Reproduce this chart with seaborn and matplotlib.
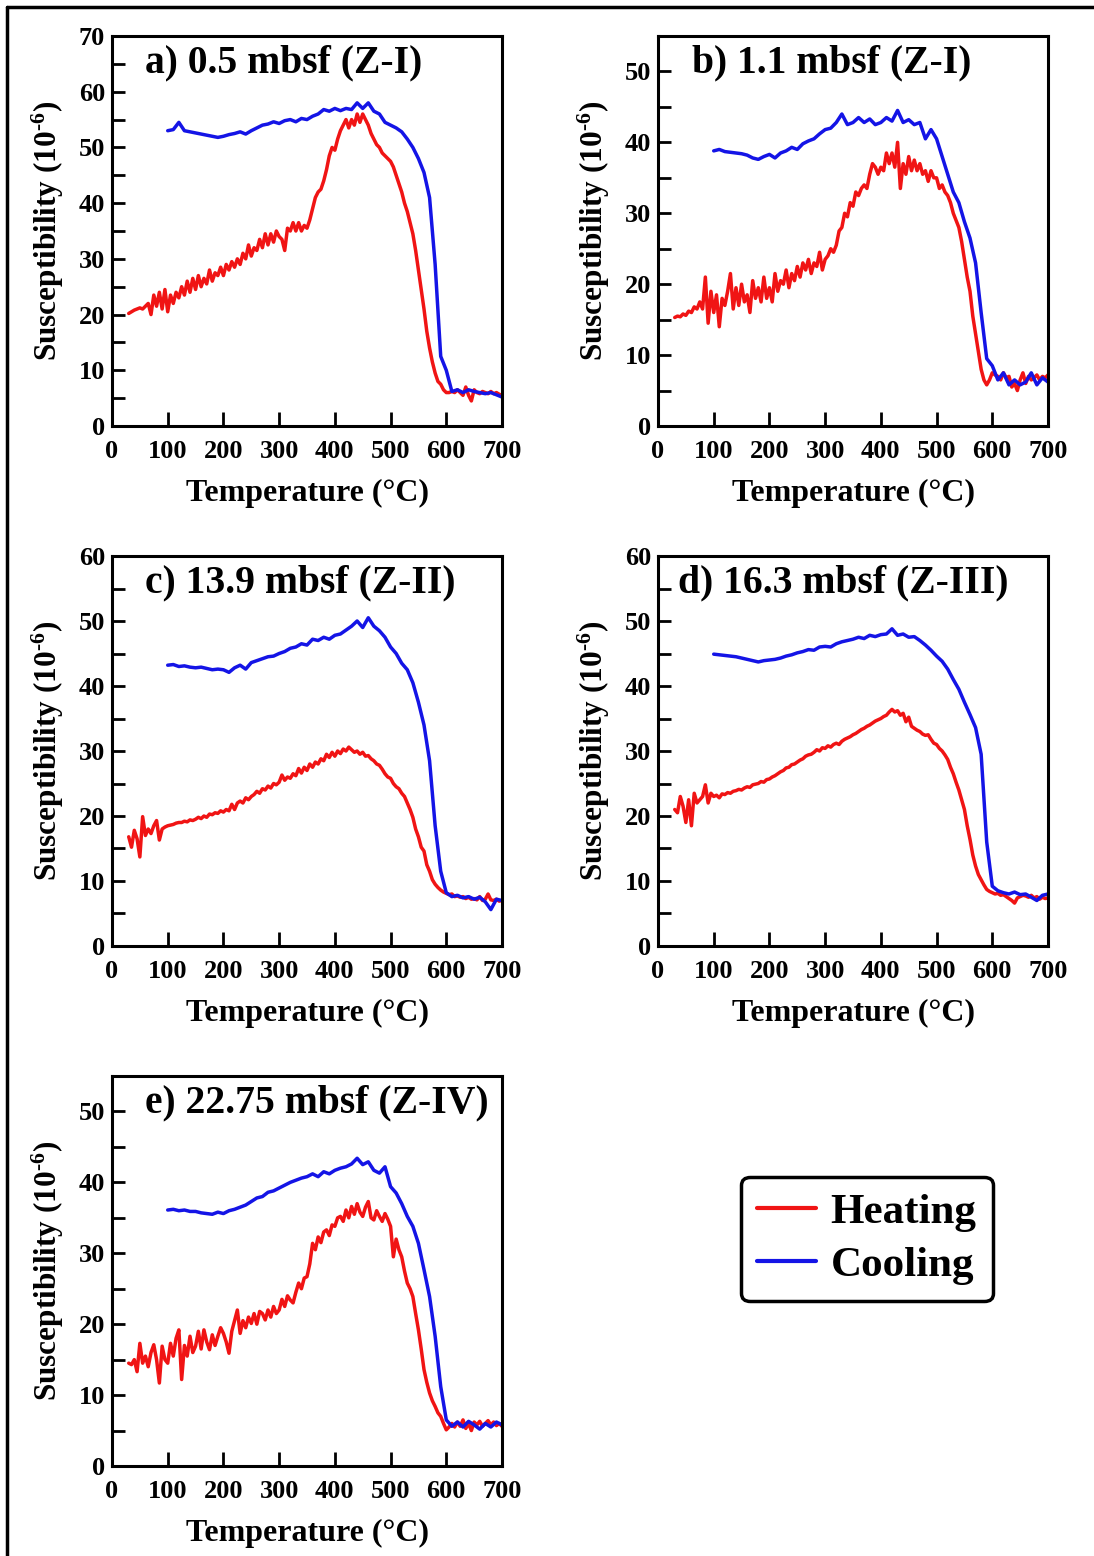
import numpy as np
import pandas as pd
import matplotlib
matplotlib.use('Agg')
import matplotlib.pyplot as plt
import seaborn as sns
from matplotlib.lines import Line2D
from matplotlib.ticker import MultipleLocator

# ---------------- data ----------------
T_HEAT = np.arange(30, 701, 5)     # heating temperatures (deg C)
T_COOL = np.arange(100, 701, 10)   # cooling temperatures (deg C)

heat_a = [20.2, 20.5, 20.8, 21.0, 21.2, 21.0, 21.5, 22.0, 20.0, 23.5,
          21.5, 24.0, 21.0, 24.5, 20.5, 23.5, 22.0, 24.0, 23.0, 25.0,
          23.5, 26.0, 24.0, 26.5, 24.5, 27.0, 25.0, 26.5, 25.5, 28.0,
          26.0, 27.5, 27.0, 28.5, 27.0, 29.0, 28.0, 29.5, 28.5, 30.0,
          29.0, 31.0, 30.0, 32.5, 30.5, 32.0, 31.5, 33.5, 32.0, 34.5,
          32.5, 34.5, 33.0, 35.0, 34.0, 33.5, 31.5, 35.5, 35.0, 36.5,
          35.0, 36.5, 35.0, 36.0, 35.5, 37.0, 39.0, 41.0, 42.0, 42.5,
          44.0, 46.0, 48.5, 50.0, 49.5, 51.5, 53.0, 54.0, 55.0, 53.5,
          55.0, 54.0, 56.0, 54.5, 56.0, 55.0, 54.0, 52.5, 51.5, 50.5,
          50.0, 49.0, 48.5, 48.0, 47.5, 46.5, 45.0, 43.5, 42.0, 40.0,
          38.5, 36.5, 34.5, 31.5, 28.0, 24.5, 21.0, 17.0, 14.0, 11.5,
          9.5, 8.0, 7.5, 6.5, 6.0, 6.0, 6.2, 6.0, 6.5, 6.0,
          5.5, 7.0, 5.5, 4.5, 6.5, 6.0, 5.8, 6.2, 6.0, 5.8,
          6.2, 5.8, 6.0, 5.7, 5.5]
cool_a = [53.0, 53.2, 54.5, 53.0, 52.8, 52.6, 52.4, 52.2, 52.0, 51.8,
          52.0, 52.3, 52.5, 52.8, 52.4, 53.0, 53.5, 54.0, 54.2, 54.6,
          54.3, 54.8, 55.0, 54.6, 55.2, 55.0, 55.6, 56.0, 56.8, 56.5,
          57.0, 56.6, 57.0, 56.8, 58.0, 57.0, 58.0, 56.5, 56.0, 54.5,
          54.0, 53.5, 52.8, 51.5, 50.0, 48.0, 45.5, 41.0, 29.0, 12.5,
          10.0, 6.2, 6.5, 6.0, 6.5, 6.2, 6.0, 5.8, 6.0, 5.6,
          5.2]

heat_b = [15.3, 15.5, 15.4, 15.8, 15.6, 16.2, 16.0, 16.8, 16.5, 17.5,
          16.5, 21.0, 14.5, 19.0, 16.0, 18.5, 14.0, 18.0, 17.0, 19.0,
          21.5, 16.5, 19.5, 17.0, 20.0, 17.5, 18.5, 16.0, 20.5, 18.0,
          19.5, 17.5, 21.0, 18.0, 19.5, 17.5, 21.5, 19.0, 20.5, 20.0,
          22.0, 19.5, 21.5, 20.5, 22.5, 21.0, 23.0, 22.0, 23.5, 21.5,
          23.0, 22.5, 24.5, 22.0, 23.5, 24.0, 25.0, 24.5, 25.5, 27.5,
          28.0, 30.0, 29.5, 31.5, 31.0, 33.0, 32.5, 33.5, 34.0, 33.5,
          35.5, 37.0, 36.5, 35.5, 36.5, 36.0, 38.5, 37.0, 38.5, 36.5,
          40.0, 33.5, 37.0, 35.5, 38.0, 36.0, 37.5, 36.0, 37.0, 35.5,
          36.0, 34.5, 36.0, 35.0, 35.0, 33.5, 34.0, 33.0, 32.5, 31.5,
          30.0, 29.0, 28.0, 26.0, 23.5, 21.0, 19.0, 15.5, 13.0, 10.5,
          8.0, 6.5, 5.8, 6.5, 7.5, 7.2, 7.0, 6.5, 7.5, 6.8,
          7.0, 5.5, 6.0, 5.0, 6.5, 7.5, 6.0, 7.0, 6.5, 6.8,
          7.2, 6.5, 7.0, 6.8, 7.2]
cool_b = [38.8, 39.0, 38.7, 38.6, 38.5, 38.4, 38.2, 37.8, 37.6, 38.0,
          38.3, 37.8, 38.5, 38.8, 39.3, 39.0, 39.8, 40.2, 40.5, 41.2,
          41.8, 42.0, 42.8, 44.0, 42.5, 42.8, 43.5, 42.8, 43.3, 42.5,
          42.8, 43.5, 43.0, 44.5, 42.8, 43.2, 42.5, 42.8, 40.5, 41.8,
          40.5, 38.0, 35.5, 33.0, 31.5, 28.8, 26.5, 23.0, 16.0, 9.5,
          8.5, 6.5, 7.5, 5.8, 6.5, 5.8, 6.2, 7.5, 5.8, 6.8,
          6.2]

heat_c = [16.8, 15.2, 17.8, 16.5, 13.7, 19.9, 17.0, 18.0, 17.3, 18.5,
          19.3, 16.3, 18.0, 18.3, 18.5, 18.6, 18.7, 18.9, 19.0, 19.0,
          19.2, 19.1, 19.4, 19.3, 19.5, 19.8, 19.6, 20.0, 19.8, 20.3,
          20.2, 20.5, 20.4, 20.8, 20.6, 21.0, 20.8, 21.8, 21.0, 22.0,
          22.3, 22.0, 22.8, 22.5, 23.0, 23.3, 23.8, 23.5, 24.2, 24.0,
          24.6, 24.3, 25.0, 24.8, 25.2, 26.3, 25.5, 26.0, 25.8, 26.5,
          26.2, 27.3, 26.6, 27.5, 27.0, 28.0, 27.5, 28.3, 28.0, 28.8,
          28.5, 29.5, 29.0, 29.8, 29.2, 30.0, 29.6, 30.3, 30.0, 30.6,
          30.2, 29.8, 30.0, 29.5, 29.8, 29.2, 29.3, 28.8, 28.5, 28.0,
          27.8, 27.2, 26.5, 26.0, 25.8, 25.0, 24.5, 24.2, 23.5, 23.0,
          22.0, 21.0, 19.8, 18.0, 16.8, 15.2, 14.6, 12.5, 11.5, 10.2,
          9.5, 9.0, 8.6, 8.3, 8.1, 7.9, 8.0, 7.6, 7.7, 7.5,
          7.6, 7.3, 7.5, 7.2, 7.3, 7.1, 7.6, 7.0, 7.2, 8.0,
          7.1, 7.0, 7.2, 6.9, 7.0]
cool_c = [43.2, 43.3, 43.0, 43.1, 42.9, 42.8, 42.9, 42.7, 42.5, 42.6,
          42.5, 42.1, 42.8, 43.2, 42.6, 43.6, 43.9, 44.2, 44.5, 44.6,
          45.0, 45.3, 45.8, 46.0, 46.5, 46.3, 47.2, 47.0, 47.5, 47.2,
          47.8, 48.0, 48.6, 49.2, 50.0, 49.0, 50.5, 49.2, 48.5, 47.5,
          46.0, 45.0, 43.5, 42.5, 40.5, 37.5, 34.0, 28.5, 18.5, 11.5,
          8.2, 7.6, 7.8, 7.4, 7.6, 7.2, 7.5, 6.8, 5.6, 7.2,
          7.0]

heat_d = [21.0, 20.5, 23.0, 21.5, 19.0, 22.5, 18.5, 23.5, 22.0, 22.5,
          23.0, 24.8, 22.0, 23.5, 23.0, 23.2, 22.8, 23.4, 23.3, 23.6,
          23.5, 23.8, 23.9, 24.1, 24.0, 24.3, 24.5, 24.4, 24.8, 24.9,
          25.0, 25.3, 25.2, 25.6, 25.7, 26.0, 26.2, 26.5, 26.8, 27.0,
          27.4, 27.5, 27.9, 28.0, 28.3, 28.6, 28.8, 29.2, 29.4, 29.5,
          29.8, 30.2, 30.0, 30.5, 30.4, 30.8, 30.6, 31.0, 31.2, 31.0,
          31.5, 31.8, 32.0, 32.2, 32.5, 32.7, 33.0, 33.3, 33.5, 33.8,
          34.0, 34.3, 34.6, 34.8, 35.0, 35.3, 35.5, 36.0, 36.4, 36.0,
          36.2, 35.5, 35.8, 34.5, 35.2, 33.8, 33.5, 33.2, 33.0, 32.6,
          32.4, 32.5, 31.8, 31.2, 31.0, 30.4, 30.0, 29.4, 28.7, 27.5,
          26.5, 25.2, 24.0, 22.5, 21.0, 18.5, 16.4, 14.0, 12.3, 11.0,
          10.2, 9.4, 8.7, 8.4, 8.2, 8.0, 8.1, 7.8, 7.9, 7.6,
          7.3, 7.0, 6.6, 7.4, 7.6, 7.8, 7.7, 7.5, 7.8, 7.4,
          7.6, 7.2, 7.5, 7.3, 7.4]
cool_d = [44.9, 44.8, 44.7, 44.6, 44.5, 44.3, 44.1, 43.9, 43.7, 43.9,
          44.0, 44.1, 44.3, 44.6, 44.8, 45.1, 45.3, 45.6, 45.5, 46.0,
          46.1, 46.0, 46.5, 46.8, 47.0, 47.2, 47.5, 47.3, 47.8, 47.6,
          47.9, 48.0, 48.8, 47.8, 48.0, 47.5, 47.6, 47.0, 46.3, 45.5,
          44.6, 43.8, 42.6, 41.0, 39.5, 37.5, 35.6, 33.6, 29.5, 16.0,
          9.2, 8.5, 8.2, 8.0, 8.3, 7.9, 8.0, 7.5, 7.0, 7.8,
          8.0]

heat_e = [14.5, 14.3, 15.0, 13.3, 17.3, 14.5, 15.5, 14.0, 16.0, 17.1,
          15.0, 11.7, 16.9, 15.0, 14.5, 17.3, 15.5, 18.0, 19.2, 12.2,
          17.0, 15.5, 18.3, 16.0, 16.9, 19.0, 16.5, 19.2, 17.5, 16.4,
          18.5, 17.0, 18.3, 19.5, 18.7, 17.5, 15.9, 19.0, 20.5, 22.0,
          18.7, 20.5, 19.5, 21.0, 20.1, 21.5, 20.0, 21.8, 21.5, 20.6,
          22.0, 21.0, 22.5, 21.5, 22.0, 23.5, 22.5, 24.0, 23.4, 23.0,
          24.5, 25.8, 25.0, 26.5, 26.7, 28.5, 31.4, 30.5, 32.3, 31.5,
          33.0, 33.3, 32.5, 34.0, 33.8, 35.0, 35.2, 34.5, 36.1, 35.0,
          36.6, 35.5, 37.0, 35.8, 35.2, 36.5, 37.3, 35.0, 34.7, 36.0,
          35.2, 34.5, 35.6, 34.8, 33.8, 29.5, 32.0, 30.5, 29.5, 27.5,
          25.8, 25.0, 23.9, 21.5, 19.2, 16.5, 13.6, 11.8, 10.3, 9.2,
          8.4, 7.5, 7.0, 6.0, 5.1, 5.5, 6.0, 5.5, 6.2, 5.6,
          6.5, 5.3, 6.0, 5.0, 6.2, 5.8, 6.3, 5.6, 6.0, 6.4,
          5.8, 6.2, 5.7, 6.0, 5.6]
cool_e = [36.1, 36.2, 36.0, 36.1, 35.9, 35.9, 35.7, 35.6, 35.5, 35.8,
          35.6, 36.0, 36.2, 36.5, 36.8, 37.3, 37.8, 38.0, 38.6, 38.8,
          39.2, 39.6, 40.0, 40.3, 40.6, 40.8, 41.2, 40.8, 41.5, 41.2,
          41.7, 42.0, 42.2, 42.6, 43.4, 42.5, 42.9, 41.7, 41.3, 42.2,
          39.4, 38.5, 37.0, 35.2, 33.8, 31.4, 27.7, 23.9, 18.3, 11.2,
          6.5, 5.6, 6.2, 5.5, 6.3, 5.8, 5.2, 6.0, 5.5, 6.2,
          5.8]

TITLES = ['a) 0.5 mbsf (Z-I)', 'b) 1.1 mbsf (Z-I)', 'c) 13.9 mbsf (Z-II)',
          'd) 16.3 mbsf (Z-III)', 'e) 22.75 mbsf (Z-IV)']
YMAX = [70, 55, 60, 60, 55]
HEATS = [heat_a, heat_b, heat_c, heat_d, heat_e]
COOLS = [cool_a, cool_b, cool_c, cool_d, cool_e]
SERIES = ['Heating', 'Cooling']
XLABEL = 'Temperature (°C)'
YLABEL = r'Susceptibility (10$^{\text{-6}}$)'

# ---------------- style ----------------
sns.set_theme(style='white')
plt.rcParams['font.family'] = ['Liberation Serif', 'DejaVu Serif']
plt.rcParams['font.weight'] = 'bold'
plt.rcParams['axes.labelweight'] = 'bold'
plt.rcParams['mathtext.fontset'] = 'custom'
plt.rcParams['mathtext.rm'] = 'Liberation Serif:bold'
plt.rcParams['mathtext.it'] = 'Liberation Serif:bold'
plt.rcParams['mathtext.bf'] = 'Liberation Serif:bold'
for key in ['text.color', 'axes.labelcolor', 'xtick.color', 'ytick.color',
            'axes.edgecolor']:
    plt.rcParams[key] = 'black'

RED = '#f01414'
BLUE = '#1414e6'

W, H = 1094, 1556
fig = plt.figure(figsize=(W / 100, H / 100), dpi=100)
fig.patch.set_facecolor('white')

# axes pixel boxes: (left, top)
BOX = [(112, 36), (658, 36), (112, 556), (658, 556), (112, 1076)]
AW, AH = 390, 390
TITLE_X = [0.085, 0.087, 0.085, 0.051, 0.085]

handles = None
for i in range(5):
    l, t = BOX[i]
    ax = fig.add_axes([l / W, 1 - (t + AH) / H, AW / W, AH / H])
    dh = pd.DataFrame({'T': T_HEAT, 'chi': HEATS[i]})
    dc = pd.DataFrame({'T': T_COOL, 'chi': COOLS[i]})
    sns.lineplot(data=dh, x='T', y='chi', ax=ax, color=RED, lw=2.5,
                 label=SERIES[0], estimator=None)
    sns.lineplot(data=dc, x='T', y='chi', ax=ax, color=BLUE, lw=2.5,
                 label=SERIES[1], estimator=None)
    if i == 0:
        handles = ax.get_legend_handles_labels()
    if ax.get_legend() is not None:
        ax.get_legend().remove()

    ax.set_xlim(0, 700)
    ax.set_ylim(0, YMAX[i])
    ax.xaxis.set_major_locator(MultipleLocator(100))
    ax.yaxis.set_major_locator(MultipleLocator(10))
    ax.yaxis.set_minor_locator(MultipleLocator(5))
    ax.tick_params(which='both', direction='in', left=True, bottom=True,
                   top=False, right=False, width=2, color='black',
                   labelcolor='black')
    ax.tick_params(axis='y', which='both', length=9, pad=5, labelsize=19)
    ax.tick_params(axis='x', which='major', length=10, pad=10, labelsize=19)
    for lab in ax.get_xticklabels() + ax.get_yticklabels():
        lab.set_fontweight('bold')
    for sp in ax.spines.values():
        sp.set_linewidth(2.2)
        sp.set_color('black')
        sp.set_visible(True)

    ax.set_xlabel(XLABEL, fontsize=23, fontweight='bold', color='black')
    ax.set_ylabel(YLABEL, fontsize=22.5, fontweight='bold', color='black')
    ax.xaxis.set_label_coords(0.5, -0.136)
    ax.yaxis.set_label_coords(-0.118, 0.5)
    ax.xaxis.label.set_va('top')

    ax.text(TITLE_X[i], 0.93, TITLES[i], transform=ax.transAxes,
            fontsize=28.5, fontweight='bold', ha='left', va='center',
            color='black')

# legend in the empty sixth slot
h, labs = handles
leg = fig.legend(h, labs, loc='center', bbox_to_anchor=(867 / W, 1 - 1239 / H),
                 fontsize=31, frameon=True, fancybox=True, framealpha=1,
                 edgecolor='black', handlelength=1.35, handletextpad=0.35,
                 labelspacing=0.31, borderpad=0.38, borderaxespad=0)
leg.get_frame().set_linewidth(2.5)
for ln in leg.get_lines():
    ln.set_linewidth(3)
for tx in leg.get_texts():
    tx.set_fontweight('bold')
    tx.set_color('black')

# outer frame (top and left edges)
fig.add_artist(Line2D([7 / W, 7 / W], [0, 1 - 7 / H], transform=fig.transFigure,
                      color='black', lw=2.5))
fig.add_artist(Line2D([7 / W, 1], [1 - 7 / H, 1 - 7 / H], transform=fig.transFigure,
                      color='black', lw=2.5))

fig.savefig('out.png', dpi=100, facecolor='white')
